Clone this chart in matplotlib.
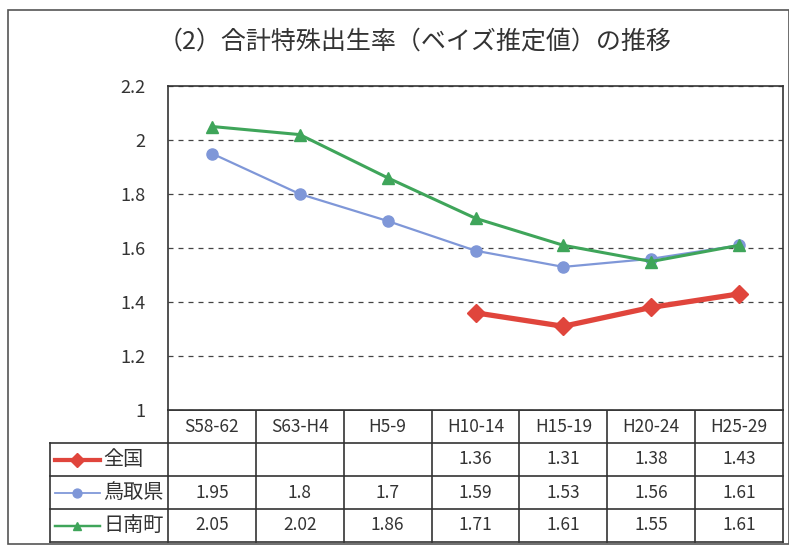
import matplotlib.pyplot as plt
import numpy as np
from matplotlib.patches import Rectangle

plt.rcParams['font.family'] = ['Noto Sans CJK JP', 'DejaVu Sans']

# データ
categories = ["S58-62", "S63-H4", "H5-9", "H10-14", "H15-19", "H20-24", "H25-29"]
zenkoku = [np.nan, np.nan, np.nan, 1.36, 1.31, 1.38, 1.43]
tottori = [1.95, 1.8, 1.7, 1.59, 1.53, 1.56, 1.61]
nichinan = [2.05, 2.02, 1.86, 1.71, 1.61, 1.55, 1.61]
series_names = ["全国", "鳥取県", "日南町"]
yticks = [1, 1.2, 1.4, 1.6, 1.8, 2, 2.2]
ytick_labels = ["1", "1.2", "1.4", "1.6", "1.8", "2", "2.2"]
title = "（2）合計特殊出生率（ベイズ推定値）の推移"

W, H = 789, 547
fig = plt.figure(figsize=(W / 100, H / 100), dpi=100)

# 外枠
bg = fig.add_axes([0, 0, 1, 1])
bg.set_xlim(0, W)
bg.set_ylim(H, 0)
bg.axis("off")
bg.add_patch(Rectangle((8, 10), W - 8, H - 13, fill=False, ec="#555555", lw=1.2))

# プロット領域 (ピクセル)
L, R, T, B = 168, 783, 86, 410
ax = fig.add_axes([L / W, 1 - B / H, (R - L) / W, (B - T) / H])
x = np.arange(len(categories))

styles = [
    dict(color="#e0453c", lw=3.8, marker="D", ms=9, zorder=3),
    dict(color="#7f97d8", lw=1.6, marker="o", ms=8, zorder=4),
    dict(color="#3fa55a", lw=2.2, marker="^", ms=8, zorder=5),
]
for vals, st in zip([zenkoku, tottori, nichinan], styles):
    ax.plot(x, vals, color=st["color"], lw=st["lw"], marker=st["marker"],
            ms=st["ms"], mec=st["color"], mfc=st["color"], zorder=st["zorder"])

ax.set_xlim(-0.5, len(categories) - 0.5)
ax.set_ylim(1, 2.2)
ax.set_yticks(yticks)
ax.set_yticklabels(ytick_labels, fontsize=13, color="#333333")
ax.set_xticks([])
ax.tick_params(axis="y", length=0, pad=16)
ax.yaxis.grid(True, ls=(0, (4, 4)), color="#444444", lw=0.9)
for s in ax.spines.values():
    s.set_color("#333333")
    s.set_linewidth(1.2)

fig.text(415 / W, 1 - 42 / H, title, ha="center", va="center",
         fontsize=18, color="#333333")

# データテーブル
col_w = (R - L) / len(categories)
row_h = 33
lab_left = 50
rows = [zenkoku, tottori, nichinan]
lc = "#333333"
n_rows = len(rows) + 1
bottom = B + row_h * n_rows
# 横線
bg.plot([L, R], [B, B], color=lc, lw=1.2)
for i in range(1, n_rows + 1):
    y = B + row_h * i
    bg.plot([lab_left, R], [y, y], color=lc, lw=1.2)
# 縦線
bg.plot([lab_left, lab_left], [B + row_h, bottom], color=lc, lw=1.2)
for j in range(len(categories) + 1):
    xx = L + col_w * j
    bg.plot([xx, xx], [B, bottom], color=lc, lw=1.2)

for j, c in enumerate(categories):
    bg.text(L + col_w * (j + 0.5), B + row_h * 0.5, c, ha="center",
            va="center", fontsize=12.5, color="#333333")

for i, (vals, name, st) in enumerate(zip(rows, series_names, styles)):
    yc = B + row_h * (i + 1.5)
    bg.plot([55, 100], [yc, yc], color=st["color"], lw=st["lw"] * 0.8)
    bg.plot([77.5], [yc], marker=st["marker"], color=st["color"],
            ms=st["ms"] * 0.8)
    bg.text(103, yc, name, ha="left", va="center", fontsize=14.5,
            color="#333333")
    for j, v in enumerate(vals):
        if not np.isnan(v):
            bg.text(L + col_w * (j + 0.5), yc, f"{v:g}", ha="center",
                    va="center", fontsize=12.5, color="#333333")

fig.savefig("out.png", dpi=100)
